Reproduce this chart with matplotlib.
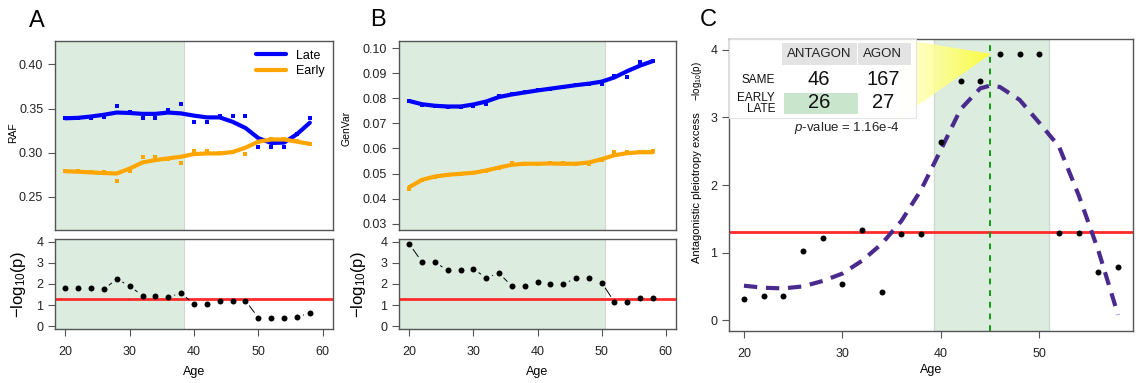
import matplotlib as mpl
import matplotlib.pyplot as plt
import numpy as np
from matplotlib.patches import Polygon, Rectangle

# ---------------------------------------------------------------------------
# Data
# ---------------------------------------------------------------------------
AGES = [20, 22, 24, 26, 28, 30, 32, 34, 36, 38,
        40, 42, 44, 46, 48, 50, 52, 54, 56, 58]

# panel A: RAF
A_LATE_PTS = [0.339, 0.339, 0.339, 0.341, 0.353, 0.3466, 0.339, 0.339, 0.348, 0.355,
              0.335, 0.335, 0.342, 0.342, 0.342, 0.306, 0.306, 0.306, 0.321, 0.339]
A_EARLY_PTS = [0.279, 0.279, 0.2785, 0.278, 0.268, 0.279, 0.2947, 0.2947, 0.2925, 0.2886,
               0.302, 0.302, 0.300, 0.301, 0.299, 0.312, 0.316, 0.316, 0.313, 0.310]
A_LATE_FIT = [0.339, 0.3395, 0.341, 0.343, 0.3455, 0.345, 0.344, 0.344, 0.3455, 0.3445,
              0.342, 0.340, 0.340, 0.335, 0.328, 0.3165, 0.311, 0.3115, 0.321, 0.334]
A_EARLY_FIT = [0.279, 0.2785, 0.2777, 0.277, 0.2765, 0.282, 0.289, 0.2917, 0.2936, 0.2955,
               0.2985, 0.2992, 0.2992, 0.3008, 0.3057, 0.3125, 0.315, 0.315, 0.3125, 0.310]
A_LOGP = [1.80, 1.80, 1.80, 1.75, 2.24, 1.90, 1.45, 1.45, 1.37, 1.58,
          1.04, 1.04, 1.22, 1.22, 1.22, 0.41, 0.41, 0.41, 0.43, 0.65]

# panel B: GenVar
B_LATE_PTS = [0.0787, 0.0775, 0.0770, 0.0766, 0.0764, 0.0770, 0.0776, 0.0809, 0.0816, 0.0823,
              0.0832, 0.0838, 0.0846, 0.0854, 0.0858, 0.0857, 0.0889, 0.0886, 0.0945, 0.0949]
B_EARLY_PTS = [0.0439, 0.0475, 0.0488, 0.0495, 0.0499, 0.0501, 0.0512, 0.0521, 0.0541, 0.0539,
               0.0539, 0.0540, 0.0541, 0.0539, 0.0537, 0.0554, 0.0585, 0.0585, 0.0586, 0.0588]
B_LATE_FIT = [0.0789, 0.0776, 0.0770, 0.0767, 0.0767, 0.0775, 0.0787, 0.0805, 0.0815, 0.0823,
              0.0831, 0.0838, 0.0845, 0.0852, 0.0858, 0.0866, 0.0883, 0.0908, 0.0930, 0.0948]
B_EARLY_FIT = [0.0446, 0.0475, 0.0488, 0.0495, 0.0499, 0.0503, 0.0512, 0.0524, 0.0535, 0.0539,
               0.0539, 0.0540, 0.0539, 0.0539, 0.0544, 0.0557, 0.0573, 0.0581, 0.0585, 0.0585]
B_LOGP = [3.89, 3.03, 3.03, 2.64, 2.64, 2.71, 2.29, 2.51, 1.90, 1.90,
          2.10, 2.00, 2.00, 2.27, 2.27, 2.07, 1.15, 1.15, 1.32, 1.32]

# panel C: antagonistic pleiotropy excess
C_LOGP = [0.31, 0.355, 0.355, 1.02, 1.22, 0.54, 1.34, 0.42, 1.27, 1.27,
          2.64, 3.54, 3.54, 3.94, 3.94, 3.94, 1.29, 1.29, 0.71, 0.78]
C_FIT_AGES = [20, 22, 24, 26, 28, 30, 32, 34, 36, 38, 40, 42, 44, 45, 46, 48, 50, 52, 54, 56, 58]
C_FIT = [0.51, 0.48, 0.47, 0.50, 0.58, 0.69, 0.88, 1.13, 1.47, 1.93, 2.52, 3.12, 3.43, 3.47,
         3.45, 3.26, 2.92, 2.57, 1.85, 1.03, 0.08]

TABLE_COLS = ["ANTAGON", "AGON"]
TABLE_ROWS = ["SAME", "EARLY\nLATE"]
TABLE_VALS = [[46, 167], [26, 27]]
P_VALUE = "1.16e-4"

SIG_LEVEL = -np.log10(0.05)
SHADE_A = (18.4, 38.5)
SHADE_B = (18.4, 50.6)
SHADE_C = (39.35, 51.0)
PEAK_AGE = 45.0

# ---------------------------------------------------------------------------
# Style
# ---------------------------------------------------------------------------
W, H = 1136, 383
BLUE, ORANGE = "#0000ff", "#ffa500"
SHADE = "#dcede0"
RED = "#ff2a2a"
PURPLE = "#4a2a8c"
FRAME = "#555555"

mpl.rcParams.update({
    "font.family": "Liberation Sans",
    "mathtext.fontset": "custom",
    "mathtext.rm": "Liberation Sans",
    "mathtext.it": "Liberation Sans:italic",
    "font.size": 9,
    "xtick.labelsize": 9, "ytick.labelsize": 9,
    "axes.edgecolor": FRAME, "axes.linewidth": 1.0,
    "xtick.color": FRAME, "ytick.color": FRAME,
    "xtick.labelcolor": "#222222", "ytick.labelcolor": "#222222",
    "xtick.major.size": 5, "ytick.major.size": 5,
    "xtick.major.pad": 7, "ytick.major.pad": 3.5,
})


def box(x0, y0, x1, y1):
    """Axes rectangle from pixel corners (top-left origin)."""
    return [x0 / W, 1 - y1 / H, (x1 - x0) / W, (y1 - y0) / H]


def px(x, y):
    return x / W, 1 - y / H


def gap_lines(ax, x, y, gap=6.8):
    """R type='b' look: connecting segments with gaps around each point."""
    pts = ax.transData.transform(np.column_stack([x, y]))
    inv = ax.transData.inverted()
    for p0, p1 in zip(pts[:-1], pts[1:]):
        d = p1 - p0
        L = np.hypot(*d)
        if L <= 2 * gap:
            continue
        u = d / L
        a, b = inv.transform([p0 + u * gap, p1 - u * gap])
        ax.plot([a[0], b[0]], [a[1], b[1]], color="k", lw=0.7, zorder=3)


fig = plt.figure(figsize=(W / 100, H / 100), dpi=100)

xlim_ab = (18.4, 61.6)


def upper_panel(rect, late_pts, early_pts, late_fit, early_fit, shade, ylim, yticks, fmt):
    ax = fig.add_axes(rect)
    ax.axvspan(*shade, facecolor=SHADE, edgecolor="#d0d8d0", lw=0.8, zorder=0)
    ax.plot(AGES, late_pts, "s", color=BLUE, ms=2.4, mew=0, zorder=2)
    ax.plot(AGES, early_pts, "s", color=ORANGE, ms=2.4, mew=0, zorder=2)
    ax.plot(AGES, late_fit, "-", color=BLUE, lw=3, solid_capstyle="round",
            label="Late", zorder=3)
    ax.plot(AGES, early_fit, "-", color=ORANGE, lw=3, solid_capstyle="round",
            label="Early", zorder=3)
    ax.set_xlim(*xlim_ab)
    ax.set_ylim(*ylim)
    ax.set_xticks([])
    ax.set_yticks(yticks)
    ax.set_yticklabels([fmt.format(v) for v in yticks])
    return ax


def lower_panel(rect, logp, shade):
    ax = fig.add_axes(rect)
    ax.axvspan(*shade, facecolor=SHADE, edgecolor="#d0d8d0", lw=0.8, zorder=0)
    ax.axhline(SIG_LEVEL, color=RED, lw=2, zorder=2)
    ax.set_xlim(*xlim_ab)
    ax.set_ylim(-0.12, 4.12)
    ax.set_xticks([20, 30, 40, 50, 60])
    ax.set_yticks([0, 1, 2, 3, 4])
    gap_lines(ax, AGES, logp)
    ax.plot(AGES, logp, "o", color="k", ms=4.3, mew=0, zorder=4)
    ax.set_xlabel("Age", fontsize=9, labelpad=6)
    return ax


# ---------------------------------------------------------------------------
# Panel A
# ---------------------------------------------------------------------------
axA = upper_panel(box(55, 41, 333, 230), A_LATE_PTS, A_EARLY_PTS, A_LATE_FIT, A_EARLY_FIT,
                  SHADE_A, (0.2125, 0.4265), [0.25, 0.30, 0.35, 0.40], "{:.2f}")
axA.legend(loc="upper right", frameon=False, fontsize=9, handlelength=2.4,
           handletextpad=0.8, labelspacing=0.25, borderaxespad=0.3)
axA2 = lower_panel(box(55, 239, 333, 329), A_LOGP, SHADE_A)

# ---------------------------------------------------------------------------
# Panel B
# ---------------------------------------------------------------------------
upper_panel(box(399, 41, 676, 230), B_LATE_PTS, B_EARLY_PTS, B_LATE_FIT, B_EARLY_FIT,
            SHADE_B, (0.0275, 0.1028),
            [0.03, 0.04, 0.05, 0.06, 0.07, 0.08, 0.09, 0.10], "{:.2f}")
lower_panel(box(399, 239, 676, 329), B_LOGP, SHADE_B)

# ---------------------------------------------------------------------------
# Panel C
# ---------------------------------------------------------------------------
axC = fig.add_axes(box(729, 39, 1133, 331))
axC.axvspan(*SHADE_C, facecolor=SHADE, edgecolor="#d0d8d0", lw=1.0, zorder=0)
axC.axhline(SIG_LEVEL, color=RED, lw=2, zorder=2)
axC.axvline(PEAK_AGE, color="#109a10", lw=1.4, ls=(0, (3, 3)), zorder=2)
axC.plot(C_FIT_AGES, C_FIT, color=PURPLE, lw=3, ls=(0, (3.2, 2.1)), zorder=3)
axC.plot(AGES, C_LOGP, "o", color="k", ms=4.3, mew=0, zorder=4)
axC.set_xlim(18.48, 59.52)
axC.set_ylim(-0.16, 4.16)
axC.set_xticks([20, 30, 40, 50])
axC.set_yticks([0, 1, 2, 3, 4])
axC.set_xlabel("Age", fontsize=9, labelpad=3)

# yellow "zoom" wedge from the table to the peak
tri = Polygon([[35.8, 4.16], [35.8, 2.99], [PEAK_AGE + 0.1, 3.94]], closed=True,
              facecolor="none", edgecolor="none")
axC.add_patch(tri)
grad = np.linspace(0, 1, 256)
rgba = np.ones((1, 256, 4))
rgba[..., 2] = 0.85 - 0.7 * grad
rgba[..., 3] = 0.85
im = axC.imshow(rgba, extent=[35.8, PEAK_AGE + 0.1, 2.99, 4.16], aspect="auto",
                zorder=2.5, interpolation="bilinear")
im.set_clip_path(tri)
axC.set_xlim(18.48, 59.52)
axC.set_ylim(-0.16, 4.16)

# contingency table inset (axes-fraction coordinates)
tr = axC.transAxes
axC.add_patch(Rectangle((0, 0.729), 0.463, 0.271, transform=tr, facecolor="white",
                        edgecolor="#e2e2e2", lw=0.8, alpha=0.93, zorder=5))
axC.add_patch(Rectangle((0.130, 0.911), 0.186, 0.075, transform=tr,
                        facecolor="#e3e3e3", edgecolor="none", zorder=6))
axC.add_patch(Rectangle((0.319, 0.911), 0.131, 0.075, transform=tr,
                        facecolor="#e3e3e3", edgecolor="none", zorder=6))
axC.add_patch(Rectangle((0.136, 0.742), 0.183, 0.074, transform=tr,
                        facecolor="#c9e5cc", edgecolor="none", zorder=6))
col_x = [0.223, 0.381]
row_y = [0.860, 0.781]
for cx, name in zip(col_x, TABLE_COLS):
    axC.text(cx, 0.9486, name, transform=tr, ha="center", va="center",
             fontsize=9.5, color="#222222", zorder=7)
axC.text(0.114, row_y[0], TABLE_ROWS[0], transform=tr, ha="right", va="center",
         fontsize=8.5, color="#111111", zorder=7)
axC.text(0.114, row_y[1] - 0.003, TABLE_ROWS[1], transform=tr, ha="right", va="center",
         fontsize=8.5, color="#111111", linespacing=0.85, zorder=7)
for ry, row in zip(row_y, TABLE_VALS):
    for cx, v in zip(col_x, row):
        axC.text(cx, ry, str(v), transform=tr, ha="center", va="center",
                 fontsize=14.5, color="#111111", zorder=7)
axC.text(0.292, 0.695, r"$p$-value = " + P_VALUE, transform=tr, ha="center",
         va="center", fontsize=9.5, color="#222222", zorder=7)

# ---------------------------------------------------------------------------
# Axis labels and panel letters
# ---------------------------------------------------------------------------
fig.text(*px(13, 133), "RAF", rotation=90, ha="center", va="center", fontsize=7.5)
fig.text(*px(347, 128), "GenVar", rotation=90, ha="center", va="center", fontsize=7.5)
fig.text(*px(18, 285), r"$-\mathrm{log}_{10}(\mathrm{p})$", rotation=90,
         ha="center", va="center", fontsize=12)
fig.text(*px(359, 285), r"$-\mathrm{log}_{10}(\mathrm{p})$", rotation=90,
         ha="center", va="center", fontsize=12)
fig.text(*px(697, 188), "Antagonistic pleiotropy excess", rotation=90,
         ha="center", va="center", fontsize=8)
fig.text(*px(697, 81), r"$-\mathrm{log}_{10}(\mathrm{p})$", rotation=90,
         ha="center", va="center", fontsize=7)

for (x, y), letter in zip([(37, 21), (378, 20), (708, 20)], "ABC"):
    fig.text(*px(x, y), letter, ha="center", va="center", fontsize=17)

fig.savefig("out.png", dpi=100)
